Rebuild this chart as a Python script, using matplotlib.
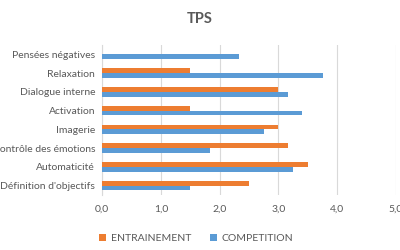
import matplotlib.pyplot as plt
import numpy as np

categories = ["Définition d'objectifs", "Automaticité", "Contrôle des émotions", "Imagerie",
              "Activation", "Dialogue interne", "Relaxation", "Pensées négatives"]
entrainement = [2.5, 3.5, 3.17, 3.0, 1.5, 3.0, 1.5, 0.0]
competition = [1.5, 3.25, 1.83, 2.75, 3.4, 3.17, 3.75, 2.33]

plt.rcParams['font.family'] = ['Lato', 'DejaVu Sans']
txt = '#595959'

fig = plt.figure(figsize=(4, 2.5), dpi=100)
ax = fig.add_axes([0.255, 0.22, 0.735, 0.6])

y = np.arange(len(categories))
h = 0.25
ax.barh(y + h / 2, entrainement, height=h, color='#ED7D31', label='ENTRAINEMENT', zorder=3)
ax.barh(y - h / 2, competition, height=h, color='#5B9BD5', label='COMPETITION', zorder=3)

ax.set_xlim(0, 5)
ax.set_ylim(-0.5, len(categories) - 0.5)
ax.set_xticks(np.arange(0, 5.1, 1))
ax.set_xticklabels([f'{v:.1f}'.replace('.', ',') for v in np.arange(0, 5.1, 1)])
ax.set_yticks(y)
ax.set_yticklabels(categories)
ax.tick_params(axis='both', length=0, labelsize=7.5, colors=txt)
ax.tick_params(axis='x', pad=7)
ax.tick_params(axis='y', pad=5)
ax.xaxis.grid(True, color='#D9D9D9', linewidth=0.8, zorder=0)
for s in ['top', 'right', 'bottom']:
    ax.spines[s].set_visible(False)
ax.spines['left'].set_color('#D9D9D9')

fig.text(0.5, 0.925, 'TPS', ha='center', va='center', fontsize=10.5, fontweight='bold', color=txt)

fig.legend(loc='center', bbox_to_anchor=(0.49, 0.047), ncol=2, frameon=False, fontsize=7.5,
           handlelength=0.7, handleheight=0.7, handletextpad=0.4, columnspacing=1.8,
           labelcolor=txt)

fig.savefig('out.png', dpi=100)
